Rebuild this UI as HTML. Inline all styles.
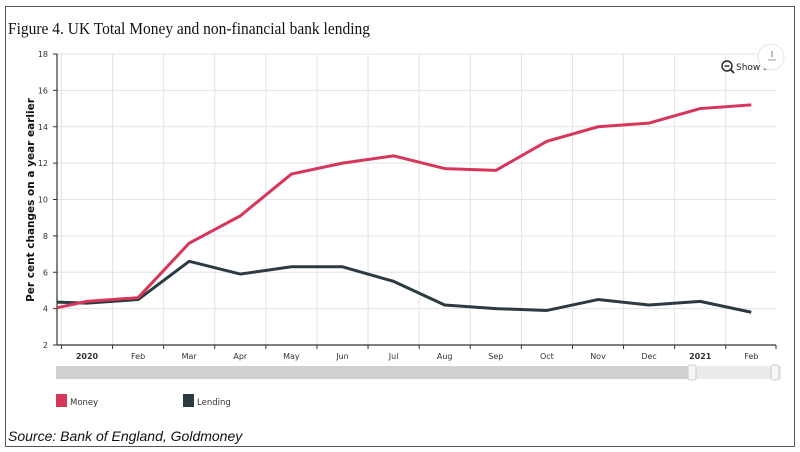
<!DOCTYPE html>
<html><head><meta charset="utf-8"><style>
body{margin:0;background:#fff;width:800px;height:452px;overflow:hidden}
svg{display:block}
</style></head><body>
<svg id="chart" width="800" height="452" xmlns="http://www.w3.org/2000/svg">
<rect x="5.5" y="6.5" width="789" height="440" fill="#fff" stroke="#555" stroke-width="1"/>
<text x="8" y="34" font-family="Liberation Serif, serif" font-size="17" fill="#111" textLength="362" lengthAdjust="spacingAndGlyphs">Figure 4. UK Total Money and non-financial bank lending</text>
<g id="grid"></g>
<g id="axes"></g>
<g id="series"></g>
<text transform="translate(34,200) rotate(-90)" text-anchor="middle" font-family="DejaVu Sans, sans-serif" font-weight="bold" font-size="10.5" fill="#111">Per cent changes on a year earlier</text>
<g>
<circle cx="727" cy="66" r="5" fill="none" stroke="#222" stroke-width="1.4"/>
<line x1="724.5" y1="66" x2="729.5" y2="66" stroke="#222" stroke-width="1.3"/>
<line x1="730.5" y1="69.5" x2="734" y2="73" stroke="#222" stroke-width="1.6"/>
<text x="736" y="70" font-family="DejaVu Sans, sans-serif" font-size="9" fill="#222">Show all</text>
</g>
<g>
<circle cx="771" cy="57" r="13" fill="#fff" stroke="#e4e4e4"/>
<line x1="772" y1="51" x2="772" y2="57" stroke="#bbb" stroke-width="2"/>
<line x1="768" y1="60" x2="776" y2="60" stroke="#bbb" stroke-width="1.5"/>
</g>
<g>
<rect x="56" y="366" width="725" height="13" fill="#ebebeb"/>
<rect x="56" y="366" width="636" height="13" fill="#d0d0d0"/>
<rect x="688" y="365" width="8" height="15" rx="2" fill="#f6f6f6" stroke="#ccc"/>
<rect x="771" y="365" width="8" height="15" rx="2" fill="#f6f6f6" stroke="#ccc"/>
</g>
<g>
<rect x="56" y="394" width="11" height="13" fill="#d6365a"/>
<text x="70" y="405" font-family="DejaVu Sans, sans-serif" font-size="8.5" fill="#333">Money</text>
</g>
<g>
<rect x="183" y="394" width="11" height="13" fill="#2c3a42"/>
<text x="197" y="405" font-family="DejaVu Sans, sans-serif" font-size="8.5" fill="#333">Lending</text>
</g>
<text x="8" y="441" font-family="Liberation Sans, sans-serif" font-style="italic" font-size="14" fill="#111">Source: Bank of England, Goldmoney</text>
<defs><clipPath id="plotclip"><rect x="57" y="50" width="720" height="296"/></clipPath></defs>
</svg>
<script>
const months=["Dec","2020","Feb","Mar","Apr","May","Jun","Jul","Aug","Sep","Oct","Nov","Dec","2021","Feb"];
const money=[3.8,4.4,4.6,7.6,9.1,11.4,12.0,12.4,11.7,11.6,13.2,14.0,14.2,15.0,15.2];
const lending=[4.4,4.3,4.5,6.6,5.9,6.3,6.3,5.5,4.2,4.0,3.9,4.5,4.2,4.4,3.8];
const yTicks=[2,4,6,8,10,12,14,16,18];
const NS="http://www.w3.org/2000/svg";
const x0=57,x1=776,yTop=54,yBot=345;
const step=51.1;
function x(i){return 87+(i-1)*step;}
function y(v){return yBot-(v-2)/(18-2)*(yBot-yTop);}
function el(tag,attrs,parent){const e=document.createElementNS(NS,tag);for(const k in attrs)e.setAttribute(k,attrs[k]);parent.appendChild(e);return e;}
const grid=document.getElementById('grid'),axes=document.getElementById('axes'),series=document.getElementById('series');
yTicks.forEach(t=>{
  const l=el('line',{x1:x0,x2:x1,y1:y(t),y2:y(t),stroke:'#e3e3e3','stroke-width':1},grid);
  
  
  const tx=el('text',{x:48,y:y(t)+3,'text-anchor':'end','font-family':'DejaVu Sans, sans-serif','font-size':8,fill:'#333'},axes);
  tx.textContent=t;
  
  
  el('line',{x1:x0-4,x2:x0,y1:y(t),y2:y(t),stroke:'#333'},axes);
});
for(let i=1;i<months.length;i++){
  const tx=x(i)-step/2;
  const g=el('line',{x1:tx,x2:tx,y1:yTop,y2:yBot,stroke:'#e3e3e3'},grid);
  
  
  el('line',{x1:tx,x2:tx,y1:yBot,y2:yBot+4,stroke:'#333'},axes);
  const lb=el('text',{x:x(i),y:yBot+14,'text-anchor':'middle','font-family':'DejaVu Sans, sans-serif','font-size':8,fill:'#333','font-weight':(months[i]==='2020'||months[i]==='2021')?'bold':'normal'},axes);
  lb.textContent=months[i];
  
  
}
el('line',{x1:x1,x2:x1,y1:yBot,y2:yBot+4,stroke:'#333'},axes);
el('line',{x1:x0,x2:x0,y1:yTop,y2:yBot,stroke:'#333','stroke-width':1.2},axes);
el('line',{x1:x0,x2:x1,y1:yBot,y2:yBot,stroke:'#333','stroke-width':1.2},axes);
function draw(data,color,name){
  const p=el('polyline',{points:data.map((v,i)=>x(i)+','+y(v)).join(' '),fill:'none',stroke:color,'stroke-width':3,'stroke-linejoin':'round','clip-path':'url(#plotclip)'},series);
  
  
}
draw(lending,'#2c3a42','lending-line');
draw(money,'#d6365a','money-line');
</script>
</body></html>
